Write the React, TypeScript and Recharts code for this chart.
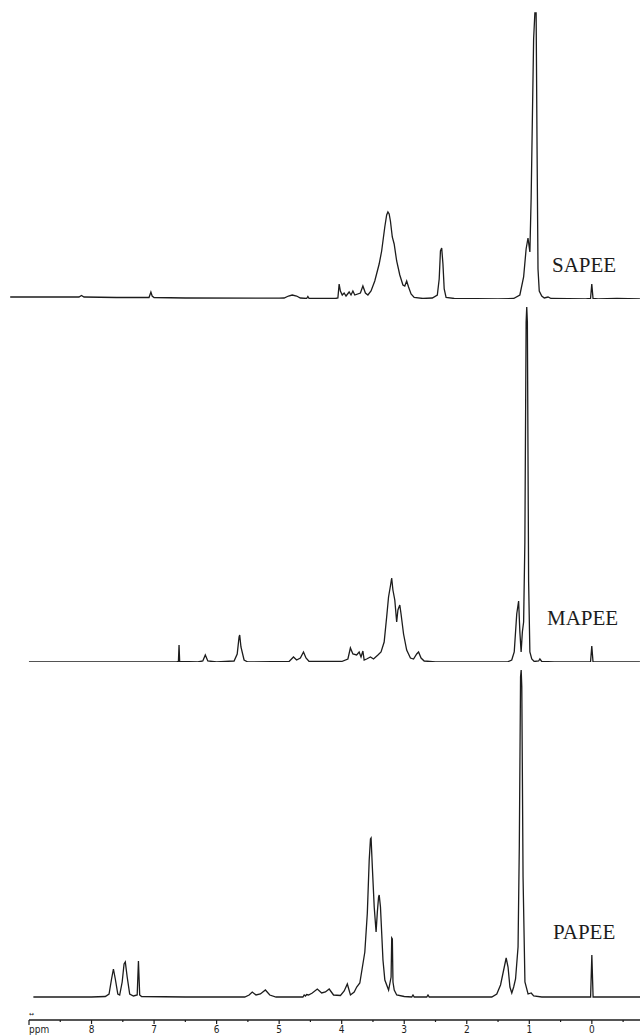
import React from "react";
import { LineChart, Line, XAxis, YAxis } from "recharts";

// ---- SAPEE spectrum (ppm, intensity) ----
const sapeePpm = [
  9.3, 8.5, 8.2, 8.16, 8.12, 7.6, 7.08, 7.05, 7.03, 7.0, 6.5, 5.0, 4.92, 4.85, 4.79, 4.72, 4.66,
  4.56, 4.54, 4.52, 4.1, 4.06, 4.04, 4.02, 3.99, 3.96, 3.93, 3.88, 3.85, 3.82, 3.79, 3.7, 3.66,
  3.62, 3.58, 3.53, 3.47, 3.4, 3.36, 3.31, 3.28, 3.26, 3.24, 3.22, 3.19, 3.16, 3.12, 3.07, 3.02,
  2.99, 2.96, 2.93, 2.89, 2.84, 2.7, 2.55, 2.47, 2.44, 2.42, 2.4, 2.38, 2.36, 2.33, 2.2, 1.5,
  1.25, 1.15, 1.09, 1.05, 1.02, 0.99, 0.97, 0.95, 0.93, 0.91, 0.89, 0.875, 0.86, 0.84, 0.8,
  0.76, 0.7, 0.65, 0.1, 0.02, 0.0, -0.02, -0.1, -0.4, -0.77,
];
const sapeeInt = [
  2, 2, 2, 3.5, 2, 1.5, 1.5, 7, 3, 1.5, 1, 0.8, 1, 3, 4, 3, 1,
  0.5, 2.5, 0.5, 0.5, 1, 15, 8, 4, 6, 3, 7, 4, 8, 4, 6, 13,
  6, 4, 8, 18, 35, 48, 72, 84, 87, 85, 78, 62, 55, 38, 24, 14,
  13, 18, 12, 5, 1.5, 0.5, 1, 4, 20, 48, 51, 35, 10, 1.5, 0.5, 0,
  0.5, 4, 22, 50, 61, 47, 100, 180, 260, 286, 286, 150, 30, 8, 3,
  1, 2, 0.5, 0, 0.5, 15, 0.5, 0, 0.5, 0,
];

// ---- MAPEE spectrum ----
const mapeePpm = [
  9.0, 6.64, 6.61, 6.6, 6.59, 6.3, 6.22, 6.18, 6.14, 6.0, 5.72, 5.67, 5.64, 5.63, 5.61, 5.56,
  5.5, 4.84, 4.77, 4.72, 4.66, 4.61, 4.57, 4.52, 4.0, 3.9, 3.86, 3.82, 3.76, 3.72, 3.69, 3.66,
  3.64, 3.6, 3.54, 3.49, 3.42, 3.37, 3.32, 3.28, 3.25, 3.22, 3.2, 3.18, 3.15, 3.12, 3.1, 3.07,
  3.05, 3.01, 2.96, 2.9, 2.85, 2.8, 2.77, 2.73, 2.68, 2.5, 1.35, 1.28, 1.24, 1.2, 1.17, 1.15,
  1.13, 1.11, 1.09, 1.07, 1.05, 1.04, 1.03, 1.01, 0.99, 0.96, 0.92, 0.85, 0.83, 0.8, 0.6, 0.02,
  0.0, -0.02, -0.77,
];
const mapeeInt = [
  0, 0, 0.5, 17, 0.5, 0, 1, 7, 1, 0, 1, 8, 25, 27, 15, 2,
  0, 0.5, 5, 2, 4, 10, 4, 0.5, 0.5, 3, 14, 8, 7, 10, 5, 11,
  2, 3, 5, 3, 7, 10, 20, 45, 65, 76, 84, 72, 62, 40, 52, 57,
  48, 28, 12, 4, 3, 8, 10, 4, 1, 0, 0, 2, 10, 48, 61, 30,
  10, 30, 40, 120, 340, 355, 340, 80, 10, 3, 0.5, 1, 3, 0.5, 0, 0,
  16, 0, 0,
];

// ---- PAPEE spectrum ----
const papeePpm = [
  8.93, 8.0, 7.78, 7.72, 7.68, 7.65, 7.62, 7.58, 7.55, 7.51, 7.48, 7.46, 7.43, 7.39, 7.33, 7.27,
  7.25, 7.23, 7.2, 6.5, 5.55, 5.48, 5.43, 5.37, 5.3, 5.22, 5.15, 5.05, 4.62, 4.6, 4.58, 4.56,
  4.53, 4.47, 4.39, 4.32, 4.26, 4.2, 4.13, 4.02, 3.96, 3.91, 3.86, 3.8, 3.76, 3.71, 3.63, 3.59,
  3.56, 3.54, 3.53, 3.51, 3.48, 3.45, 3.43, 3.41, 3.4, 3.38, 3.34, 3.31, 3.25, 3.21, 3.2, 3.19,
  3.18, 3.16, 3.12, 3.0, 2.88, 2.86, 2.84, 2.64, 2.62, 2.6, 1.6, 1.52, 1.46, 1.4, 1.37, 1.34,
  1.31, 1.28, 1.25, 1.22, 1.18, 1.16, 1.14, 1.13, 1.12, 1.1, 1.07, 1.02, 0.97, 0.93, 0.8, 0.02,
  0.0, -0.02, -0.77,
];
const papeeInt = [
  0, 0, 0.5, 3, 18, 28, 18, 3, 2, 15, 33, 35, 20, 3, 1, 2,
  36, 2, 0.5, 0, 0, 2, 5, 2, 3, 7, 2, 0, 0, 2, 1, 2.5,
  2, 4, 8, 4, 5, 8, 2, 1.5, 6, 13, 2, 5, 10, 14, 45, 84,
  137, 158, 159, 130, 90, 65, 85, 100, 102, 90, 37, 17, 7, 20, 59, 58,
  15, 7, 2, 0.5, 0, 2, 0, 0, 2, 0, 0, 3, 12, 30, 39, 30,
  10, 4, 10, 18, 50, 150, 320, 327, 310, 120, 15, 3, 4, 1, 0, 0,
  42, 0, 0,
];

// ---- axis ticks ----
const axisTicks = [9, 8.5, 8, 7.5, 7, 6.5, 6, 5.5, 5, 4.5, 4, 3.5, 3, 2.5, 2, 1.5, 1, 0.5, 0, -0.5];
const sampleNames = ["SAPEE", "MAPEE", "PAPEE"];

const build = (ppm: number[], v: number[]) => ppm.map((p, i) => ({ ppm: p, v: v[i] }));
const sapeeData = build(sapeePpm, sapeeInt);
const mapeeData = build(mapeePpm, mapeeInt);
const papeeData = build(papeePpm, papeeInt);

const INK = "#1c1c1c";
const W = 642;
const TICK_FONT = "'Liberation Sans Narrow', 'DejaVu Sans Condensed', sans-serif";

const AxisTick = (props: any) => {
  const { x, y, payload } = props;
  const val = payload.value as number;
  const isInt = Math.abs(val - Math.round(val)) < 1e-6;
  if (val === 9) {
    return (
      <g>
        <line x1={x} y1={y} x2={x} y2={y + 5} stroke={INK} strokeWidth={1.2} />
        <text x={x} y={y - 4} fontSize={6} fill={INK} fontFamily="DejaVu Sans">↔</text>
        <text x={x} y={y + 13} fontSize={10} fill={INK} fontFamily={TICK_FONT}>ppm</text>
      </g>
    );
  }
  if (isInt) {
    return (
      <g>
        <line x1={x} y1={y} x2={x} y2={y + 4} stroke={INK} strokeWidth={1.2} />
        <text x={x} y={y + 13} textAnchor="middle" fontSize={10} fill={INK} fontFamily={TICK_FONT}>
          {String(val)}
        </text>
      </g>
    );
  }
  return <line x1={x} y1={y} x2={x} y2={y + 2} stroke={INK} strokeWidth={1.2} />;
};

const FULL_DOMAIN: [number, number] = [-0.803, 9.463];

export default function App() {
  return (
    <div style={{ position: "absolute", left: 0, top: 0, width: W, height: 1035, background: "#fff" }}>
      <div style={{ position: "absolute", left: 0, top: 0 }}>
        <LineChart width={W} height={300} data={sapeeData} margin={{ top: 0, right: 0, bottom: 1, left: 0 }}>
          <XAxis dataKey="ppm" type="number" domain={FULL_DOMAIN} reversed hide allowDataOverflow />
          <YAxis type="number" domain={[0, 299]} hide allowDataOverflow />
          <Line dataKey="v" type="linear" stroke={INK} strokeWidth={1.3} dot={false} activeDot={false} isAnimationActive={false} />
        </LineChart>
      </div>
      <div style={{ position: "absolute", left: 0, top: 300 }}>
        <LineChart width={W} height={363} data={mapeeData} margin={{ top: 0, right: 0, bottom: 1, left: 0 }}>
          <XAxis dataKey="ppm" type="number" domain={FULL_DOMAIN} reversed hide allowDataOverflow />
          <YAxis type="number" domain={[0, 362]} hide allowDataOverflow />
          <Line dataKey="v" type="linear" stroke={INK} strokeWidth={1.3} dot={false} activeDot={false} isAnimationActive={false} />
        </LineChart>
      </div>
      <div style={{ position: "absolute", left: 0, top: 663 }}>
        <LineChart width={W} height={372} data={papeeData} margin={{ top: 0, right: 2, bottom: 0, left: 29 }}>
          <XAxis
            dataKey="ppm"
            type="number"
            domain={[-0.77, 9.0]}
            reversed
            allowDataOverflow
            ticks={axisTicks}
            interval={0}
            height={15}
            tickSize={0}
            tickMargin={0}
            tickLine={false}
            axisLine={{ stroke: INK, strokeWidth: 1.4 }}
            tick={<AxisTick />}
          />
          <YAxis type="number" domain={[-23, 334]} hide allowDataOverflow />
          <Line dataKey="v" type="linear" stroke={INK} strokeWidth={1.3} dot={false} activeDot={false} isAnimationActive={false} />
        </LineChart>
      </div>
      <svg style={{ position: "absolute", left: 0, top: 0, pointerEvents: "none" }} width={W} height={1035}>
        <text x={552} y={272} fontSize={21} fill={INK} fontFamily="'Liberation Serif', serif">{sampleNames[0]}</text>
        <text x={547} y={625} fontSize={21} fill={INK} fontFamily="'Liberation Serif', serif">{sampleNames[1]}</text>
        <text x={553} y={939} fontSize={21} fill={INK} fontFamily="'Liberation Serif', serif">{sampleNames[2]}</text>
      </svg>
    </div>
  );
}
